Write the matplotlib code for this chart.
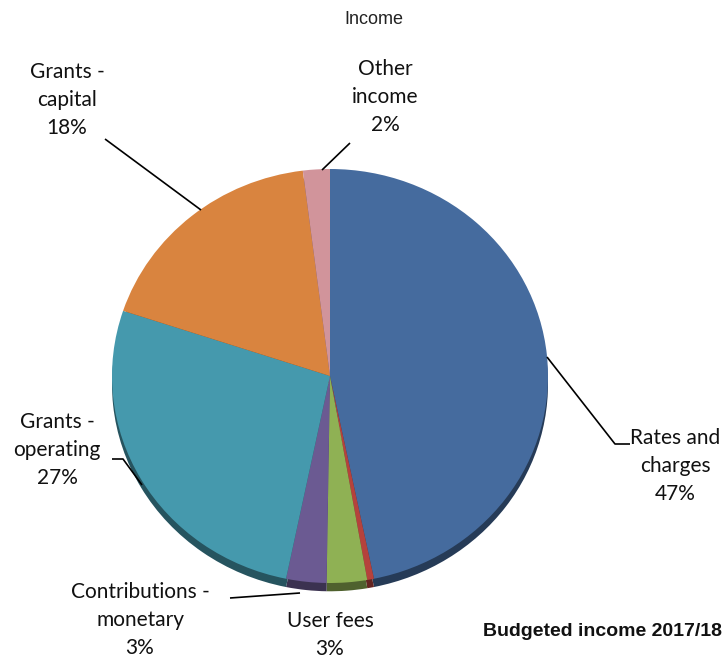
import matplotlib
matplotlib.use("Agg")
import matplotlib.pyplot as plt
import matplotlib.colors as mcolors
from matplotlib import font_manager

# Budgeted income shares (%), clockwise from 12 o'clock
categories = ["Rates and\ncharges", "", "User fees", "Contributions -\nmonetary",
              "Grants -\noperating", "Grants -\ncapital", "Other\nincome"]
shares = [47, 0.5, 3, 3, 27, 18, 2]
colors = ["#456b9e", "#b5423c", "#8fb154", "#6b5a92", "#4599ad", "#d9843f", "#d1949b"]

title = "Income"
footnote = "Budgeted income 2017/18"

W, H = 726, 662
fig = plt.figure(figsize=(W / 100, H / 100), dpi=100)

names = {f.name for f in font_manager.fontManager.ttflist}
label_font = ["Lato", "DejaVu Sans"]
narrow_font = ["Liberation Sans Narrow", "Liberation Sans", "DejaVu Sans"] \
    if "Liberation Sans Narrow" in names else ["Liberation Sans", "DejaVu Sans"]

# Pie axes: elliptical pie, radius 1 maps to rx/ry pixels
cx, cy, rx, ry = 330, 376, 218, 207
pax = fig.add_axes([(cx - rx) / W, (H - cy - ry) / H, 2 * rx / W, 2 * ry / H])


def darker(c, f=0.55):
    r, g, b = mcolors.to_rgb(c)
    return (r * f, g * f, b * f)


# side rim of the 3D pie
rim, _ = pax.pie(shares, colors=[darker(c) for c in colors], startangle=90,
                 counterclock=False, radius=1, center=(0, -0.04),
                 wedgeprops=dict(linewidth=0))
wedges, _ = pax.pie(shares, colors=colors, startangle=90, counterclock=False,
                    radius=1, center=(0, 0), wedgeprops=dict(linewidth=0))
for w in list(rim) + list(wedges):
    w.set_clip_on(False)
pax.set_aspect("auto")
pax.set_xlim(-1, 1)
pax.set_ylim(-1, 1)
pax.axis("off")

# Overlay axes in pixel coordinates for labels and leaders
ox = fig.add_axes([0, 0, 1, 1], facecolor="none")
ox.set_xlim(0, W)
ox.set_ylim(H, 0)
ox.axis("off")

total = sum(shares)
label_pos = {
    0: (675, 466),
    2: (330, 635),
    3: (140, 620),
    4: (57, 450),
    5: (67, 100),
    6: (385, 97),
}
leaders = {
    0: [(547, 357), (615, 444), (630, 444)],
    3: [(230, 598), (300, 593)],
    4: [(112, 459), (123, 459), (142, 485)],
    5: [(105, 139), (201, 210)],
    6: [(350, 143), (322, 170)],
}
for i, (x, y) in label_pos.items():
    pct = round(shares[i] / total * 100)
    ox.text(x, y, f"{categories[i]}\n{pct}%", ha="center", va="center",
            fontsize=15, family=label_font, linespacing=1.52, color="#111111")
for pts in leaders.values():
    xs, ys = zip(*pts)
    ox.plot(xs, ys, color="black", lw=1.2, solid_capstyle="butt")

ox.text(374, 20, title, ha="center", va="center", fontsize=13,
        family=narrow_font, color="#222222")
ox.text(722, 632, footnote, ha="right", va="center", fontsize=14,
        family=narrow_font, fontweight="bold", color="#111111")

fig.savefig("out.png", dpi=100)
